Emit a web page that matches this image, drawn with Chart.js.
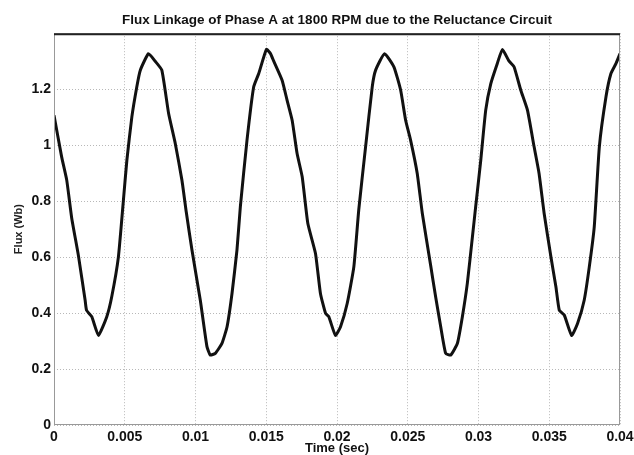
<!DOCTYPE html>
<html>
<head>
<meta charset="utf-8">
<script src="https://cdn.jsdelivr.net/npm/chart.js@4"></script>
<style>
  body { margin: 0; background: #fff; }
  #wrap { width: 634px; height: 455px; }
</style>
</head>
<body>
<div id="wrap"><canvas id="fluxChart" width="634" height="455"></canvas></div>
<script>
// time samples (sec) and flux linkage (Wb)
const timeSec = [0, 0.00054, 0.0009, 0.00125, 0.00172, 0.0022, 0.0023, 0.00267, 0.00314, 0.00373,
    0.00408, 0.00455, 0.0049, 0.00515, 0.0055, 0.00585, 0.0061, 0.00668, 0.00715, 0.00762,
    0.0081, 0.00857, 0.00904, 0.00935, 0.00975, 0.01034, 0.01081, 0.01104, 0.0114, 0.01187,
    0.01223, 0.01258, 0.01293, 0.01317, 0.01364, 0.01411, 0.01447, 0.01501, 0.0153, 0.01553,
    0.01612, 0.01647, 0.01683, 0.01718, 0.01754, 0.01794, 0.01848, 0.01883, 0.01919, 0.01942,
    0.01989, 0.02025, 0.02072, 0.02119, 0.02154, 0.02202, 0.02249, 0.02273, 0.02336, 0.02402,
    0.0245, 0.02485, 0.0252, 0.02567, 0.02603, 0.02662, 0.02697, 0.02733, 0.02768, 0.02804,
    0.02851, 0.02886, 0.02921, 0.02957, 0.0298, 0.03016, 0.03051, 0.03087, 0.03133, 0.03169,
    0.03216, 0.03251, 0.03299, 0.03346, 0.03393, 0.03428, 0.03464, 0.03512, 0.03547, 0.03571,
    0.03606, 0.03658, 0.037, 0.03747, 0.03783, 0.03818, 0.03854, 0.03901, 0.03936, 0.03972, 0.04];
const fluxWb = [1.107, 0.958, 0.875, 0.74, 0.607, 0.446, 0.41, 0.387, 0.32, 0.387,
    0.458, 0.60, 0.80, 0.946, 1.10, 1.208, 1.268, 1.327, 1.30, 1.268,
    1.113, 1.006, 0.875, 0.76, 0.625, 0.446, 0.28, 0.25, 0.256, 0.292,
    0.351, 0.47, 0.625, 0.78, 1.018, 1.208, 1.256, 1.342, 1.327, 1.30,
    1.232, 1.161, 1.089, 0.97, 0.887, 0.72, 0.613, 0.47, 0.399, 0.387,
    0.32, 0.351, 0.434, 0.565, 0.77, 0.994, 1.208, 1.268, 1.327, 1.28,
    1.196, 1.089, 1.018, 0.899, 0.756, 0.57, 0.458, 0.351, 0.256, 0.25,
    0.292, 0.387, 0.506, 0.672, 0.78, 0.946, 1.125, 1.22, 1.292, 1.342,
    1.30, 1.28, 1.196, 1.125, 0.994, 0.899, 0.756, 0.60, 0.494, 0.41,
    0.393, 0.32, 0.363, 0.446, 0.565, 0.708, 0.994, 1.173, 1.256, 1.292, 1.327];
const xTicks = [0, 0.005, 0.01, 0.015, 0.02, 0.025, 0.03, 0.035, 0.04];
const yTicks = [0, 0.2, 0.4, 0.6, 0.8, 1, 1.2];

const points = timeSec.map((t, i) => ({ x: t, y: fluxWb[i] }));
const fontFam = '"Liberation Sans", Arial, sans-serif';

// white background + box around the plot
const frame = {
    id: 'frame',
    beforeDraw(chart) {
        const c = chart.ctx;
        c.save();
        c.fillStyle = '#fff';
        c.fillRect(0, 0, chart.width, chart.height);
        c.restore();
    },
    afterDatasetsDraw(chart) {
        const a = chart.chartArea;
        const c = chart.ctx;
        c.save();
        c.lineWidth = 1;
        c.strokeStyle = '#999';
        c.strokeRect(a.left + 0.5, a.top + 0.5, a.right - a.left - 1, a.bottom - a.top - 1);
        c.strokeStyle = '#222';
        c.lineWidth = 2;
        c.beginPath();
        c.moveTo(a.left, a.top + 1);
        c.lineTo(a.right, a.top + 1);
        c.stroke();
        c.restore();
    }
};

const gridStyle = {
    color: '#b8b8b8',
    lineWidth: 1,
    drawTicks: false
};

new Chart(document.getElementById('fluxChart'), {
    type: 'line',
    data: {
        datasets: [{
            data: points,
            borderColor: '#111',
            borderWidth: 3,
            pointRadius: 0,
            tension: 0.15,
            fill: false
        }]
    },
    options: {
        responsive: false,
        animation: false,
        layout: { padding: { left: 0, right: 14, top: 0, bottom: 0 } },
        plugins: {
            legend: { display: false },
            tooltip: { enabled: false },
            title: {
                display: true,
                fullSize: false,
                text: 'Flux Linkage of Phase A at 1800 RPM due to the Reluctance Circuit',
                color: '#111',
                font: { family: fontFam, size: 13.5, weight: 'bold', lineHeight: 1.2 },
                padding: { top: 12, bottom: 5 }
            }
        },
        scales: {
            x: {
                type: 'linear',
                min: 0,
                max: 0.04,
                afterBuildTicks: s => { s.ticks = xTicks.map(v => ({ value: v })); },
                afterFit: s => { s.height = 30; s.paddingLeft = 0; s.paddingRight = 0; },
                grid: { ...gridStyle },
                border: { display: false, dash: [1, 2] },
                ticks: {
                    color: '#111',
                    padding: 4,
                    maxRotation: 0,
                    font: { family: fontFam, size: 14, weight: 'bold' },
                    callback: v => String(+v.toFixed(3))
                },
                title: {
                    display: true,
                    text: 'Time (sec)',
                    color: '#111',
                    font: { family: fontFam, size: 13, weight: 'bold', lineHeight: 1 },
                    padding: 0
                }
            },
            y: {
                min: 0,
                max: 1.4,
                afterBuildTicks: s => { s.ticks = yTicks.map(v => ({ value: v })); },
                afterFit: s => { s.width = 54; s.paddingTop = 0; s.paddingBottom = 0; },
                grid: { ...gridStyle },
                border: { display: false, dash: [1, 2] },
                ticks: {
                    color: '#111',
                    padding: 3,
                    font: { family: fontFam, size: 14, weight: 'bold' },
                    callback: v => String(+v.toFixed(1))
                },
                title: {
                    display: true,
                    text: 'Flux (Wb)',
                    color: '#222',
                    font: { family: fontFam, size: 11, weight: 'bold' },
                    padding: { top: 12, bottom: 0 }
                }
            }
        }
    },
    plugins: [frame]
});
</script>
</body>
</html>
